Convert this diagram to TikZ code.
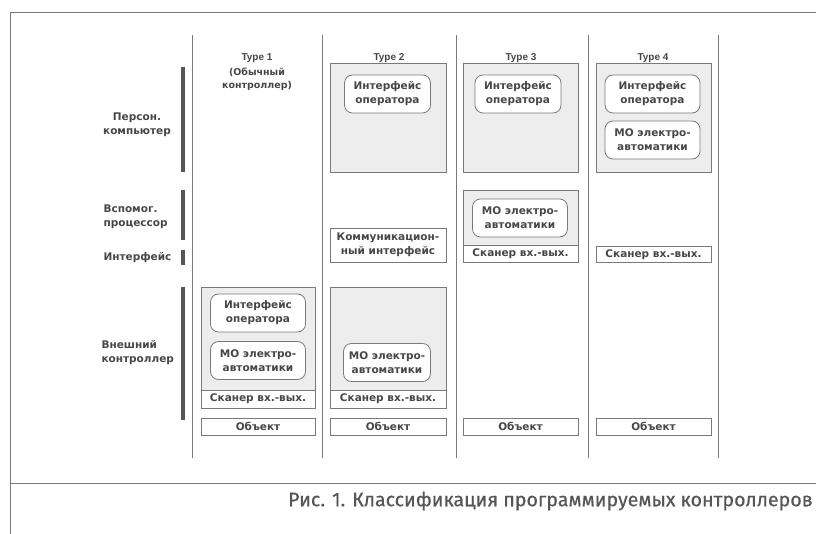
\documentclass[tikz,border=0pt]{standalone}
\usepackage{fontspec}
\setmainfont{DejaVu Sans}
\newfontfamily\typefont{Liberation Sans}
\newfontfamily\capfont[FakeBold=0.5]{Fira Sans}
\definecolor{ink}{HTML}{474747}
\definecolor{rule}{HTML}{7A7A7A}
\definecolor{shade}{HTML}{EDEDED}
\definecolor{barc}{HTML}{555555}
\definecolor{capc}{HTML}{555555}
\begin{document}
\begin{tikzpicture}[x=1pt,y=-1pt,
  every node/.style={text=ink,font=\fontsize{10.5}{14}\selectfont\bfseries},
  panel/.style={draw=rule,fill=shade,line width=0.7pt,inner sep=0pt,minimum width=115pt},
  modbox/.style={draw=rule,fill=white,line width=0.8pt,rounded corners=8pt,align=center,inner sep=1pt,minimum height=38pt},
  plainbox/.style={draw=rule,fill=white,line width=0.7pt,align=center,inner sep=0.5pt,minimum width=115pt},
  colline/.style={draw=rule,line width=0.7pt},
  catbar/.style={draw=barc,line width=3.5pt},
  framel/.style={draw=rule,line width=0.8pt},
  catlabel/.style={anchor=west,align=left},
  typelabel/.style={align=center,font=\typefont\fontsize{10}{11}\selectfont\bfseries}]
\useasboundingbox (0,0) rectangle (816,534);
\clip (0,0) rectangle (816,534);
% frame
\coordinate (ftl) at (10,12);
\coordinate (ftr) at (816,12);
\coordinate (fbl) at (10,534);
\coordinate (fsl) at (10,483);
\coordinate (fsr) at (816,483);
\draw[framel] (fbl) -- (ftl) -- (ftr);
\draw[framel] (fsl) -- (fsr);
% column lines
\foreach \n/\x in {a/192,b/322,c/456,d/588,e/718}{
  \coordinate (\n t) at (\x,35);
  \coordinate (\n b) at (\x,458);
  \draw[colline] (\n t) -- (\n b);
}
% type labels
\node[typelabel] (ty1) at (257,58) {Type 1};
\node[align=center,font=\fontsize{9.5}{13.5}\selectfont\bfseries] (ty1b) at (257,79) {(Обычный\\контроллер)};
\node[typelabel] (ty2) at (389,58) {Type 2};
\node[typelabel] (ty3) at (521,58) {Type 3};
\node[typelabel] (ty4) at (653,58) {Type 4};
% category bars
\foreach \n/\a/\b in {pc/67/172,vp/190/240,if/250/265,ec/287/420}{
  \coordinate (\n1) at (183,\a);
  \coordinate (\n2) at (183,\b);
  \draw[catbar] (\n1) -- (\n2);
}
\node[align=center] (lpc) at (137,125) {Персон.\\компьютер};
\node[catlabel] (lvp) at (100,217) {Вспомог.\\процессор};
\node[catlabel] (lif) at (100,258) {Интерфейс};
\node[catlabel] (lec) at (98,353) {Внешний\\контроллер};
% Type 2
\node[panel,minimum width=116pt,minimum height=109pt] (p2top) at (388,117.5) {};
\node[modbox,minimum width=86pt] (m2a) at (387.5,94) {Интерфейс\\оператора};
\node[plainbox,minimum width=116pt,minimum height=34pt] (comm) at (388,245) {Коммуникацион-\\ный интерфейс};
\node[panel,minimum width=116pt,minimum height=103pt] (p2bot) at (388,338.5) {};
\node[modbox,minimum width=87pt] (m2b) at (387,362.5) {МО электро-\\автоматики};
\node[plainbox,minimum width=116pt,minimum height=18pt] (s2) at (388,399) {Сканер вх.-вых.};
\node[plainbox,minimum width=116pt,minimum height=17pt] (o2) at (388,426.5) {Объект};
% Type 3
\node[panel,minimum height=109pt] (p3top) at (520.5,117.5) {};
\node[modbox,minimum width=86pt] (m3a) at (518,94) {Интерфейс\\оператора};
\node[panel,minimum height=55pt] (p3mid) at (520.5,217.5) {};
\node[modbox,minimum width=95pt] (m3b) at (520,218) {МО электро-\\автоматики};
\node[plainbox,minimum height=17pt] (s3) at (520.5,253.5) {Сканер вх.-вых.};
\node[plainbox,minimum height=17pt] (o3) at (520.5,426.5) {Объект};
% Type 4
\node[panel,minimum height=109pt] (p4top) at (653.5,117.5) {};
\node[modbox,minimum width=95pt] (m4a) at (652.5,94) {Интерфейс\\оператора};
\node[modbox,minimum width=95pt] (m4b) at (652.5,140) {МО электро-\\автоматики};
\node[plainbox,minimum height=16pt] (s4) at (653.5,254.5) {Сканер вх.-вых.};
\node[plainbox,minimum height=17pt] (o4) at (653.5,426.5) {Объект};
% Type 1
\node[panel,minimum width=114pt,minimum height=103pt] (p1bot) at (258,338.5) {};
\node[modbox,minimum width=95pt] (m1a) at (258,313) {Интерфейс\\оператора};
\node[modbox,minimum width=95pt] (m1b) at (258,360.5) {МО электро-\\автоматики};
\node[plainbox,minimum width=114pt,minimum height=18pt] (s1) at (258,399) {Сканер вх.-вых.};
\node[plainbox,minimum width=114pt,minimum height=17pt] (o1) at (258,426.5) {Объект};
% caption
\node[anchor=east,inner sep=1pt,text=capc,font=\capfont\fontsize{19.6}{22}\selectfont] (cap) at (814,501) {Рис. 1. Классификация программируемых контроллеров};
\end{tikzpicture}
\end{document}
